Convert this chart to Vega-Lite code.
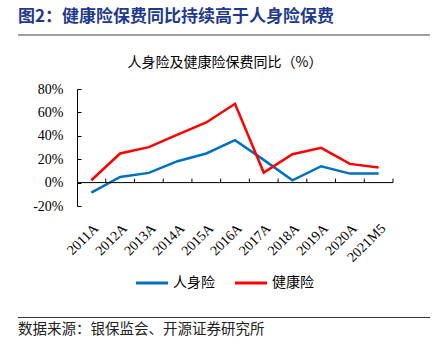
{
  "$schema": "https://vega.github.io/schema/vega-lite/v6.json",
  "padding": {"left": 18, "top": 8, "right": 5, "bottom": 5},
  "background": "white",
  "config": {"view": {"stroke": null}, "concat": {"spacing": 16}, "axis": {"labelOverlap": false}},
  "resolve": {"scale": {"color": "independent"}, "legend": {"color": "independent"}},
  "datasets": {
    "series": [
      {"year": "2011A", "series": "人身险", "value": -8.6},
      {"year": "2012A", "series": "人身险", "value": 4.8},
      {"year": "2013A", "series": "人身险", "value": 8.3},
      {"year": "2014A", "series": "人身险", "value": 18.3},
      {"year": "2015A", "series": "人身险", "value": 24.9},
      {"year": "2016A", "series": "人身险", "value": 36.3},
      {"year": "2017A", "series": "人身险", "value": 19.4},
      {"year": "2018A", "series": "人身险", "value": 2.0},
      {"year": "2019A", "series": "人身险", "value": 14.0},
      {"year": "2020A", "series": "人身险", "value": 7.7},
      {"year": "2021M5", "series": "人身险", "value": 7.7},
      {"year": "2011A", "series": "健康险", "value": 2.0},
      {"year": "2012A", "series": "健康险", "value": 24.9},
      {"year": "2013A", "series": "健康险", "value": 30.3},
      {"year": "2014A", "series": "健康险", "value": 41.0},
      {"year": "2015A", "series": "健康险", "value": 51.4},
      {"year": "2016A", "series": "健康险", "value": 67.4},
      {"year": "2017A", "series": "健康险", "value": 8.6},
      {"year": "2018A", "series": "健康险", "value": 24.3},
      {"year": "2019A", "series": "健康险", "value": 29.7},
      {"year": "2020A", "series": "健康险", "value": 16.0},
      {"year": "2021M5", "series": "健康险", "value": 12.9}
    ],
    "blank": [{"k": 1}]
  },
  "vconcat": [
    {
      "width": 412,
      "height": 2,
      "view": {"stroke": null, "fill": "#a0a0a0"},
      "title": {"text": "图2：健康险保费同比持续高于人身险保费", "anchor": "start", "orient": "top", "offset": 3, "font": "Noto Sans CJK SC", "fontSize": 17, "fontWeight": "bold", "color": "#1F3A8C"},
      "data": {"name": "blank"},
      "mark": {"type": "text", "text": ""},
      "encoding": {}
    },
    {
      "spacing": 0,
      "resolve": {"scale": {"color": "independent"}, "legend": {"color": "independent"}},
      "hconcat": [
        {
          "width": 14,
          "height": 1,
          "data": {"name": "blank"},
          "mark": {"type": "text", "text": ""},
          "encoding": {}
        },
        {
          "width": 316,
          "height": 117,
          "title": {"text": "人身险及健康险保费同比（%）", "anchor": "middle", "offset": 12, "dx": -10, "font": "Noto Sans CJK SC", "fontSize": 14, "fontWeight": "normal", "color": "#000000"},
          "data": {"name": "series"},
          "layer": [
            {
              "mark": {"type": "line", "strokeWidth": 2.5},
              "encoding": {
                "x": {"field": "year", "type": "ordinal", "sort": null,
                  "scale": {"type": "band", "paddingInner": 0, "paddingOuter": 0},
                  "axis": {"title": null, "orient": "bottom", "domain": false, "ticks": false, "labelAngle": -45, "labelPadding": 15, "labelFont": "Liberation Serif", "labelFontSize": 14, "labelColor": "#000000"}},
                "y": {"field": "value", "type": "quantitative",
                  "scale": {"domain": [-20, 80], "nice": false},
                  "axis": {"title": null, "values": [-20, 0, 20, 40, 60, 80], "tickCount": 6, "labelExpr": "datum.value + '%'", "labelOverlap": false, "grid": false, "domainColor": "#000000", "tickColor": "#000000", "tickSize": -4, "labelPadding": 18, "labelFont": "Liberation Serif", "labelFontSize": 14, "labelColor": "#000000"}},
                "color": {"field": "series", "type": "nominal",
                  "scale": {"domain": ["人身险", "健康险"], "range": ["#0070C0", "#FF0000"]},
                  "legend": {"title": null, "orient": "none", "legendX": 63, "legendY": 182, "padding": 5, "direction": "horizontal", "symbolType": "M-4,0H4", "symbolSize": 64, "symbolStrokeWidth": 3, "labelFont": "Noto Sans CJK SC", "labelFontSize": 14, "labelColor": "#000000", "labelOffset": 14, "columnPadding": 14}}
              }
            },
            {
              "data": {"name": "blank"},
              "mark": {"type": "rule", "color": "#000000", "strokeWidth": 1},
              "encoding": {"y": {"datum": 0, "type": "quantitative"}}
            },
            {
              "transform": [{"filter": "datum.series === '人身险'"}],
              "mark": {"type": "rule", "color": "#000000", "strokeWidth": 1},
              "encoding": {
                "x": {"field": "year", "type": "ordinal", "sort": null, "bandPosition": 1},
                "y": {"datum": 0, "type": "quantitative"},
                "y2": {"datum": 3.4}
              }
            }
          ]
        }
      ]
    },
    {
      "width": 412,
      "height": 1,
      "view": {"stroke": null, "fill": "#333333"},
      "title": {"text": "数据来源：银保监会、开源证券研究所", "anchor": "start", "orient": "bottom", "offset": 0, "font": "Noto Sans CJK SC", "fontSize": 14.5, "fontWeight": "normal", "color": "#222222"},
      "data": {"name": "blank"},
      "mark": {"type": "text", "text": ""},
      "encoding": {}
    }
  ]
}
